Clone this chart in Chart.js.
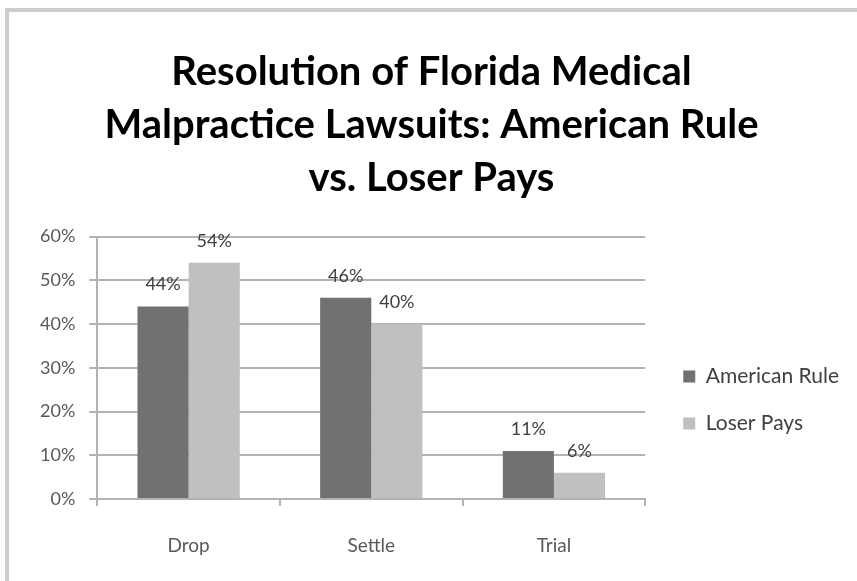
<!DOCTYPE html>
<html>
<head>
<meta charset="utf-8">
<script src="https://cdn.jsdelivr.net/npm/chart.js@4/dist/chart.umd.min.js"></script>
<style>
  html, body { margin: 0; padding: 0; background: #fff; overflow: hidden; }
  #frame {
    position: absolute; left: 5px; top: 8px; width: 900px; height: 620px;
    border-top: 4px solid #cccccc; border-left: 4px solid #cccccc;
  }
  #wrap { position: absolute; left: 0; top: 0; width: 857px; height: 581px; }
</style>
</head>
<body>
<div id="frame"></div>
<div id="wrap"><canvas id="chart" width="857" height="581"></canvas></div>
<script>
const categories = ["Drop", "Settle", "Trial"];
const seriesNames = ["American Rule", "Loser Pays"];
const americanRule = [44, 46, 11];
const loserPays = [54, 40, 6];
const yTicks = [0, 10, 20, 30, 40, 50, 60];

const FONT = "Lato, 'Open Sans', sans-serif";
const GRID = "#b3b3b3";

// draws the value above each bar
const valueLabels = {
  id: "valueLabels",
  afterDatasetsDraw(chart) {
    const ctx = chart.ctx;
    ctx.save();
    ctx.font = "18px " + FONT;
    ctx.fillStyle = "#404040";
    ctx.textAlign = "center";
    ctx.textBaseline = "middle";
    chart.data.datasets.forEach((ds, i) => {
      chart.getDatasetMeta(i).data.forEach((bar, j) => {
        ctx.fillText(ds.data[j] + "%", bar.x, bar.y - 22);
      });
    });
    ctx.restore();
  }
};

// push the legend a bit away from the plot area
const legendGap = {
  id: "legendGap",
  afterLayout(chart) {
    chart.legend.left += 12;
    chart.legend.right += 12;
  }
};

new Chart(document.getElementById("chart"), {
  type: "bar",
  data: {
    labels: categories,
    datasets: [
      { label: seriesNames[0], data: americanRule, backgroundColor: "#717171" },
      { label: seriesNames[1], data: loserPays, backgroundColor: "#c0c0c0" }
    ]
  },
  options: {
    responsive: false,
    animation: false,
    categoryPercentage: 0.56,
    barPercentage: 1.0,
    layout: { padding: { top: 8, left: 26, right: 20, bottom: 22 } },
    plugins: {
      title: {
        display: true,
        text: ["Resolution of Florida Medical", "Malpractice Lawsuits: American Rule", "vs. Loser Pays"],
        color: "#000",
        font: { family: FONT, size: 40, weight: "bold", lineHeight: 1.33 },
        padding: { top: 37, bottom: 32 }
      },
      legend: {
        position: "right",
        fullSize: false,
        align: "start",
        title: { display: true, text: "", padding: { top: 89, bottom: 0 } },
        labels: {
          boxWidth: 12,
          boxHeight: 12,
          padding: 26,
          color: "#404040",
          font: { family: FONT, size: 21 }
        }
      },
      tooltip: { enabled: false }
    },
    scales: {
      x: {
        grid: { drawOnChartArea: false, drawTicks: true, tickLength: 7, color: GRID, lineWidth: 2 },
        border: { color: GRID, width: 2 },
        ticks: { color: "#595959", padding: 28, font: { family: FONT, size: 19 } },
        afterFit: (axis) => { axis.height = 60; }
      },
      y: {
        min: 0,
        max: 60,
        afterBuildTicks: (axis) => { axis.ticks = yTicks.map(v => ({ value: v })); },
        grid: { color: GRID, lineWidth: 2, tickLength: 8 },
        border: { color: GRID, width: 2 },
        ticks: {
          color: "#595959",
          padding: 14,
          font: { family: FONT, size: 18 },
          callback: (v) => v + "%"
        }
      }
    }
  },
  plugins: [valueLabels, legendGap]
});
</script>
</body>
</html>
